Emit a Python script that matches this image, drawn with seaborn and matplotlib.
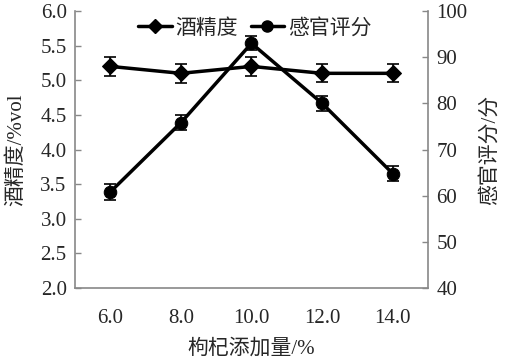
import matplotlib
matplotlib.use("Agg")
import matplotlib.pyplot as plt
import seaborn as sns
import numpy as np
import pandas as pd
from matplotlib.lines import Line2D

# Data
goji_add = [6.0, 8.0, 10.0, 12.0, 14.0]
alcohol = [5.2, 5.1, 5.2, 5.1, 5.1]
alcohol_err = [0.14, 0.14, 0.14, 0.13, 0.13]
sensory = [60.8, 75.8, 93.0, 80.0, 64.8]
sensory_err = [1.8, 1.6, 1.5, 1.6, 1.6]
x_ticklabels = ["6.0", "8.0", "10.0", "12.0", "14.0"]

sns.set_style("white")
fam = ["Liberation Serif", "Noto Sans CJK SC"]
plt.rcParams["font.family"] = fam

df = pd.DataFrame({"x": goji_add, "alcohol": alcohol, "sensory": sensory})

fig = plt.figure(figsize=(5.05, 3.63), dpi=100)
ax = fig.add_axes([0.1485, 0.2066, 0.699, 0.7631])
ax2 = ax.twinx()

col = "black"
sns.lineplot(data=df, x="x", y="alcohol", ax=ax, color=col, lw=2.5,
             marker="D", markersize=8, markeredgecolor=col)
ax.errorbar(goji_add, alcohol, yerr=alcohol_err, fmt="none", ecolor=col,
            elinewidth=1.2, capsize=4, capthick=1.2)
sns.lineplot(data=df, x="x", y="sensory", ax=ax2, color=col, lw=2.5,
             marker="o", markersize=9, markeredgecolor=col)
ax2.errorbar(goji_add, sensory, yerr=sensory_err, fmt="none", ecolor=col,
             elinewidth=1.2, capsize=4, capthick=1.2)

ax.set_xlim(5, 15)
ax.set_ylim(2.0, 6.0)
ax2.set_ylim(40, 100)
ticks = np.arange(5, 16, 1)
ax.set_xticks(ticks)
lab_iter = iter(x_ticklabels)
ax.set_xticklabels([next(lab_iter) if v % 2 == 0 else "" for v in ticks])
ax.set_yticks(np.arange(2.0, 6.01, 0.5))
ax.set_yticklabels([f"{v:.1f}" for v in np.arange(2.0, 6.01, 0.5)])
ax2.set_yticks(np.arange(40, 101, 10))

fs = 15
ax.tick_params(axis="both", direction="in", length=4, width=1, color="#888888",
               labelsize=fs, pad=6)
ax.tick_params(axis="x", pad=15)
ax2.tick_params(axis="y", direction="in", length=4, width=1, color="#888888",
                labelsize=fs, pad=6)

for a in (ax, ax2):
    for s in a.spines.values():
        s.set_visible(False)
ax.spines["left"].set_visible(True)
ax.spines["bottom"].set_visible(True)
ax2.spines["right"].set_visible(True)
for s in (ax.spines["left"], ax.spines["bottom"], ax2.spines["right"]):
    s.set_color("#888888")
    s.set_linewidth(1.2)

ax.set_xlabel("枸杞添加量/%", fontsize=fs, family=fam, labelpad=8)
ax.set_ylabel("酒精度/%vol", fontsize=fs, family=fam, labelpad=10)
ax2.set_ylabel("感官评分/分", fontsize=fs, family=fam, labelpad=9)

handles = [Line2D([], [], color=col, lw=2.5, marker="D", markersize=7),
           Line2D([], [], color=col, lw=2.5, marker="o", markersize=8)]
ax.legend(handles, ["酒精度", "感官评分"], loc="upper center",
          bbox_to_anchor=(0.51, 1.04), ncol=2, frameon=False,
          prop={"family": fam, "size": fs}, handlelength=1.6,
          handletextpad=0.2, columnspacing=0.6)

fig.savefig("out.png", dpi=100)
